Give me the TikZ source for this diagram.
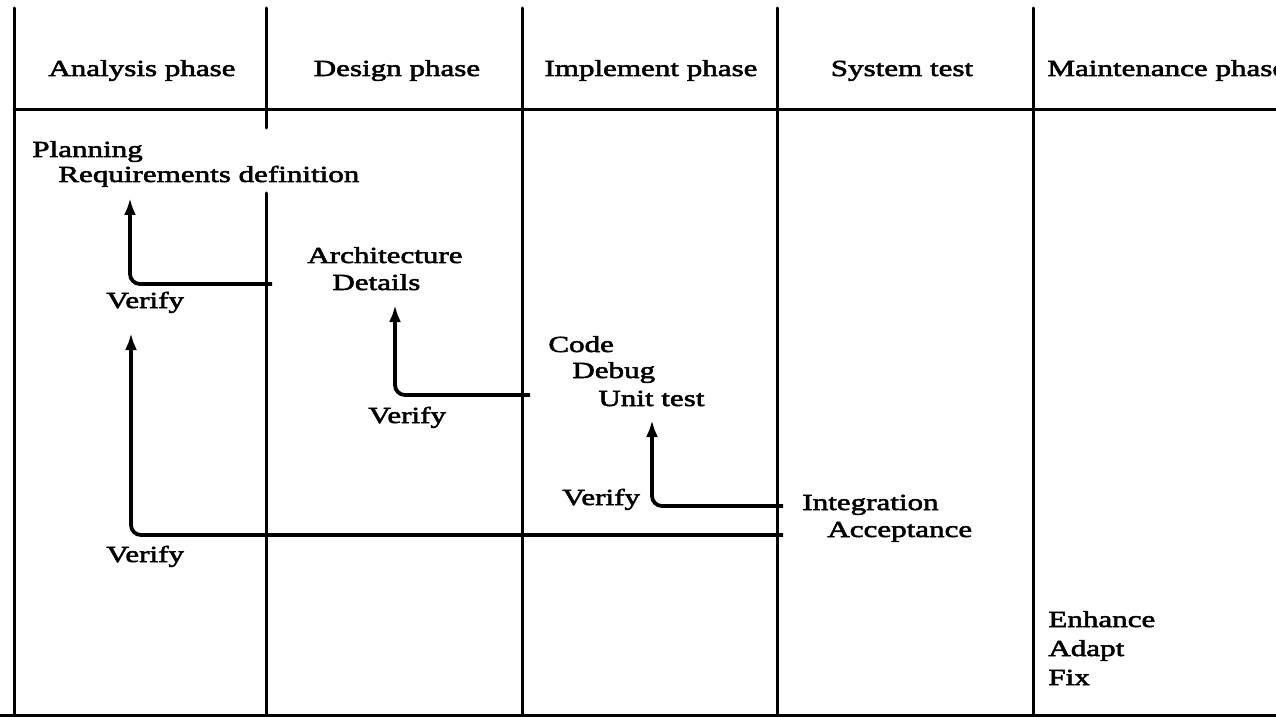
\documentclass[tikz,border=0pt]{standalone}
\usepackage{fontspec}
\setmainfont{Liberation Serif}[FakeStretch=1.35, FakeBold=2.5]
\usetikzlibrary{arrows.meta}

\begin{document}
\begin{tikzpicture}[x=0.5pt, y=-0.5pt,
  rule/.style={line width=1.5pt, line cap=round},
  flow/.style={line width=1.9pt, rounded corners=5pt, -{Latex[length=8.5pt,width=6pt]}},
  txt/.style={inner sep=0pt, font=\fontsize{11.5}{14}\selectfont},
  head/.style={txt, anchor=base},
  lbl/.style={txt, anchor=base west}]
\useasboundingbox (0,0) rectangle (1276,717);
\clip (0,0) rectangle (1276,717);

% phase columns and header rule
\draw[rule] (14,8) -- (14,714);
\draw[rule] (266,8) -- (266,128);
\draw[rule] (266,193) -- (266,714);
\draw[rule] (522,8) -- (522,714);
\draw[rule] (777,8) -- (777,714);
\draw[rule] (1033,8) -- (1033,714);
\draw[rule] (14,110) -- (1280,110);
\draw[rule] (0,715) -- (1280,715);

% column headings
\node[head] (hAn) at (142,76) {Analysis phase};
\node[head] (hDe) at (397,76) {Design phase};
\node[head] (hIm) at (651,76) {Implement phase};
\node[head] (hSy) at (902,76) {System test};
\node[lbl]  (hMa) at (1047,76) {Maintenance phase};

% activities in each phase
\node[lbl] (plan) at (32,157) {Planning};
\node[lbl] (req)  at (58,182) {Requirements definition};
\node[lbl] (arch) at (307,263) {Architecture};
\node[lbl] (det)  at (332,290) {Details};
\node[lbl] (code) at (548,352) {Code};
\node[lbl] (dbg)  at (572,378) {Debug};
\node[lbl] (unit) at (598,406) {Unit test};
\node[lbl] (integ) at (802,510) {Integration};
\node[lbl] (acc)  at (827,537) {Acceptance};
\node[lbl] (enh)  at (1048,627) {Enhance};
\node[lbl] (adp)  at (1048,656) {Adapt};
\node[lbl] (fix)  at (1048,685) {Fix};

% verification labels
\node[lbl] (v1) at (106,308) {Verify};
\node[lbl] (v2) at (368,423) {Verify};
\node[lbl] (v3) at (562,505) {Verify};
\node[lbl] (v4) at (106,562) {Verify};

% feedback paths
\coordinate (s1) at (272,284);  \coordinate (t1) at (130,198);
\coordinate (s2) at (530,395);  \coordinate (t2) at (395,305);
\coordinate (s3) at (783,506);  \coordinate (t3) at (652,420);
\coordinate (s4) at (783,535);  \coordinate (t4) at (131,333);

\draw[flow] (s1) -| (t1);
\draw[flow] (s2) -| (t2);
\draw[flow] (s3) -| (t3);
\draw[flow] (s4) -| (t4);
\end{tikzpicture}
\end{document}
